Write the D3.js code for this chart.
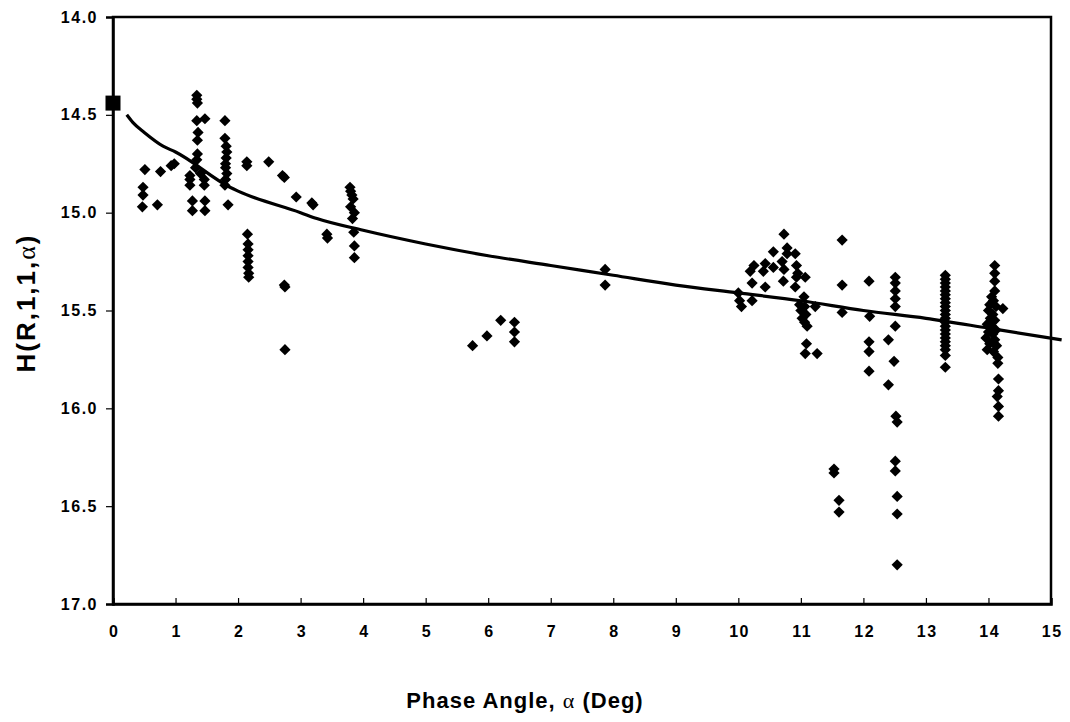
<!DOCTYPE html>
<html>
<head>
<meta charset="utf-8">
<script src="https://cdn.jsdelivr.net/npm/d3@7"></script>
<style>
  body { margin: 0; background: #fff; }
  svg text { font-family: "Liberation Sans", Arial, sans-serif; font-weight: bold; fill: #000; }
  .sym { font-family: "Liberation Serif", "Times New Roman", serif; font-weight: normal; }
</style>
</head>
<body>
<div id="chart"></div>
<script>
// observed points: phase angle (deg) and reduced magnitude
const obsAlpha = [
  0.48, 0.48, 0.47, 0.51, 0.76, 0.71, 0.98, 0.93,
  1.34, 1.34, 1.35, 1.34, 1.47, 1.36, 1.35, 1.35, 1.34, 1.32, 1.23, 1.23, 1.23, 1.46, 1.46, 1.27, 1.47, 1.27, 1.47, 1.40,
  1.79, 1.79, 1.81, 1.82, 1.81, 1.80, 1.80, 1.82, 1.80, 1.79, 1.84,
  2.14, 2.14, 2.49, 2.71, 2.74, 2.93, 3.18, 3.20,
  2.15, 2.16, 2.16, 2.16, 2.16, 2.16, 2.17, 2.17,
  2.74, 2.75, 2.75, 3.42, 3.43,
  3.79, 3.80, 3.82, 3.84, 3.80, 3.86, 3.83, 3.85, 3.86, 3.86,
  5.75, 5.98, 6.20, 6.42, 6.42, 6.42,
  7.87, 7.87,
  10.00, 10.02, 10.05, 10.22, 10.19, 10.22, 10.25, 10.40, 10.43, 10.43, 10.56, 10.56, 10.70, 10.73, 10.73, 10.72,
  10.78, 10.78, 10.91, 10.93, 10.95, 10.93, 10.91, 11.07, 11.05, 10.98, 11.06, 11.00, 11.08, 11.02, 11.06, 11.10,
  11.23, 11.09, 11.07, 11.26, 11.53, 11.53, 11.61, 11.61, 11.66, 11.66, 11.66,
  12.09, 12.10, 12.09, 12.09, 12.09, 12.40, 12.49, 12.40,
  12.51, 12.51, 12.51, 12.51, 12.51, 12.51, 12.52, 12.54, 12.51, 12.51, 12.54, 12.54, 12.54,
  13.31, 13.31, 13.31, 13.31, 13.31, 13.31, 13.31, 13.31, 13.31, 13.31, 13.31,
  13.31, 13.31, 13.31, 13.31, 13.31, 13.31, 13.31, 13.31, 13.31, 13.31, 13.31,
  14.10, 14.10, 14.10, 14.10, 14.05, 14.08, 14.02, 14.12, 14.23, 14.00, 14.07, 14.03, 14.10, 13.98, 14.05, 14.12,
  14.00, 14.07, 13.96, 14.10, 14.02, 14.13, 13.98, 14.08, 14.15, 14.15, 14.16, 14.16, 14.14, 14.16, 14.16
];
const obsH = [
  14.87, 14.91, 14.97, 14.78, 14.79, 14.96, 14.75, 14.76,
  14.40, 14.42, 14.44, 14.53, 14.52, 14.59, 14.63, 14.70, 14.73, 14.77, 14.81, 14.83, 14.86, 14.83, 14.86, 14.94, 14.94, 14.99, 14.99, 14.80,
  14.53, 14.62, 14.66, 14.69, 14.72, 14.75, 14.77, 14.80, 14.83, 14.86, 14.96,
  14.74, 14.76, 14.74, 14.81, 14.82, 14.92, 14.95, 14.96,
  15.11, 15.16, 15.19, 15.22, 15.25, 15.28, 15.31, 15.33,
  15.37, 15.38, 15.70, 15.11, 15.13,
  14.87, 14.89, 14.91, 14.93, 14.97, 15.00, 15.03, 15.10, 15.17, 15.23,
  15.68, 15.63, 15.55, 15.56, 15.61, 15.66,
  15.29, 15.37,
  15.41, 15.45, 15.48, 15.45, 15.30, 15.36, 15.27, 15.30, 15.26, 15.38, 15.20, 15.28, 15.25, 15.11, 15.29, 15.35,
  15.18, 15.21, 15.21, 15.27, 15.31, 15.33, 15.38, 15.33, 15.43, 15.47, 15.48, 15.50, 15.52, 15.54, 15.56, 15.58,
  15.48, 15.67, 15.72, 15.72, 16.31, 16.33, 16.47, 16.53, 15.14, 15.37, 15.51,
  15.35, 15.53, 15.66, 15.71, 15.81, 15.65, 15.76, 15.88,
  15.33, 15.36, 15.40, 15.44, 15.48, 15.58, 16.04, 16.07, 16.27, 16.32, 16.45, 16.54, 16.80,
  15.32, 15.34, 15.36, 15.38, 15.40, 15.42, 15.44, 15.46, 15.48, 15.50, 15.52,
  15.54, 15.56, 15.58, 15.60, 15.62, 15.64, 15.66, 15.68, 15.70, 15.73, 15.79,
  15.27, 15.31, 15.35, 15.40, 15.43, 15.45, 15.47, 15.48, 15.49, 15.50, 15.52, 15.54, 15.55, 15.57, 15.58, 15.60,
  15.61, 15.62, 15.64, 15.65, 15.67, 15.68, 15.70, 15.71, 15.74, 15.77, 15.85, 15.91, 15.94, 15.99, 16.04
];

// fitted phase curve
const fitAlpha = [0.22, 0.32, 0.5, 0.8, 1, 1.87, 2, 3, 3.26, 4, 5, 6, 7, 8, 9, 10, 11, 12, 13, 14, 15.17];
const fitH     = [14.50, 14.54, 14.59, 14.66, 14.69, 14.87, 14.89, 15.00, 15.03, 15.09, 15.16, 15.22, 15.27, 15.32, 15.37, 15.41, 15.45, 15.50, 15.54, 15.59, 15.65];

// absolute magnitude at zero phase
const h0Alpha = [0];
const h0Value = [14.44];

const xTicks = [0, 1, 2, 3, 4, 5, 6, 7, 8, 9, 10, 11, 12, 13, 14, 15];
const yTicks = [14.0, 14.5, 15.0, 15.5, 16.0, 16.5, 17.0];

const width = 1070;
const height = 722;
const margin = { top: 17, right: 19, bottom: 118, left: 113 };
const innerW = width - margin.left - margin.right;
const innerH = height - margin.top - margin.bottom;

const svg = d3.select("#chart").append("svg")
    .attr("width", width)
    .attr("height", height);

const g = svg.append("g")
    .attr("transform", `translate(${margin.left},${margin.top})`);

const x = d3.scaleLinear().domain([0, 15]).range([0, innerW]);
const y = d3.scaleLinear().domain([14, 17]).range([0, innerH]);

// frame
g.append("rect")
    .attr("x", 0).attr("y", 0)
    .attr("width", innerW).attr("height", innerH)
    .attr("fill", "none")
    .attr("stroke", "#000")
    .attr("stroke-width", 2.5);

// y axis (ticks outward)
const yAxis = g.append("g")
    .call(d3.axisLeft(y).tickValues(yTicks).tickFormat(d3.format(".1f")).tickSize(7).tickPadding(8));
yAxis.select(".domain").attr("stroke-width", 2.5);
yAxis.selectAll(".tick line").attr("stroke-width", 1.2);
yAxis.selectAll(".tick text").style("font-size", "16px").style("letter-spacing", "1.5px");

// x axis (ticks inward)
const xAxis = g.append("g")
    .attr("transform", `translate(0,${innerH})`)
    .call(d3.axisBottom(x).tickValues(xTicks).tickFormat(d3.format("d")).tickSize(-6).tickPadding(22));
xAxis.select(".domain").attr("stroke-width", 2.5);
xAxis.selectAll(".tick line").attr("stroke-width", 1.2);
xAxis.selectAll(".tick text").style("font-size", "16px").style("letter-spacing", "1.5px")
    .attr("dx", "0.75px");

// fitted curve
const line = d3.line()
    .x(d => x(d[0]))
    .y(d => y(d[1]))
    .curve(d3.curveMonotoneX);

g.append("path")
    .datum(d3.zip(fitAlpha, fitH))
    .attr("d", line)
    .attr("fill", "none")
    .attr("stroke", "#000")
    .attr("stroke-width", 3.2);

// observations
const diamond = d3.symbol().type(d3.symbolDiamond2).size(80);
g.append("g")
    .selectAll("path")
    .data(d3.zip(obsAlpha, obsH))
    .enter()
    .append("path")
    .attr("d", diamond)
    .attr("transform", d => `translate(${x(d[0])},${y(d[1])})`)
    .attr("fill", "#000");

// H at zero phase
g.append("g")
    .selectAll("rect")
    .data(d3.zip(h0Alpha, h0Value))
    .enter()
    .append("rect")
    .attr("x", d => x(d[0]) - 7.5)
    .attr("y", d => y(d[1]) - 7.5)
    .attr("width", 15)
    .attr("height", 15)
    .attr("fill", "#000");

// axis titles
const xt = svg.append("text")
    .attr("x", 525)
    .attr("y", 708)
    .attr("text-anchor", "middle")
    .style("font-size", "22px")
    .style("letter-spacing", "1px");
xt.append("tspan").text("Phase Angle, ");
xt.append("tspan").attr("class", "sym").text("α");
xt.append("tspan").text(" (Deg)");

const yt = svg.append("text")
    .attr("transform", "translate(35,303) rotate(-90)")
    .attr("text-anchor", "middle")
    .style("font-size", "26px")
    .style("letter-spacing", "2px");
yt.append("tspan").text("H(R,1,1,");
yt.append("tspan").attr("class", "sym").text("α");
yt.append("tspan").text(")");
</script>
</body>
</html>
